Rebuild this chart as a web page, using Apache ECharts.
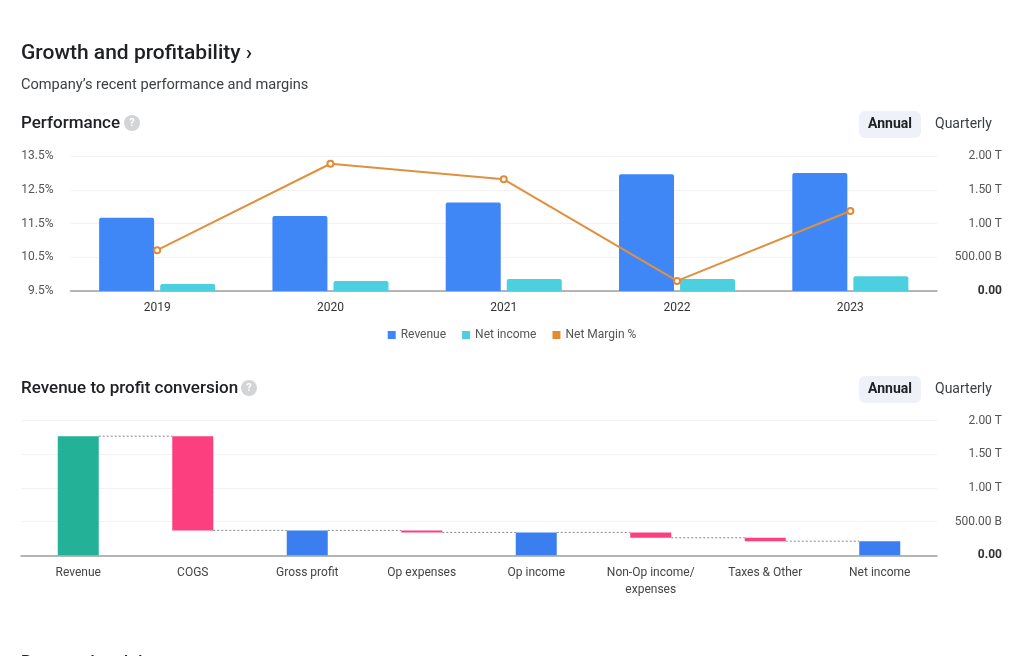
<!DOCTYPE html>
<html>
<head>
<meta charset="utf-8">
<script src="https://cdn.jsdelivr.net/npm/echarts@6/dist/echarts.min.js"></script>
<style>
html,body{margin:0;padding:0;background:#fff;}
#c{width:1024px;height:656px;}
</style>
</head>
<body>
<div id="c"></div>
<script>
// ---- Performance data ----
const years = ['2019', '2020', '2021', '2022', '2023'];
const revenue = [1.086, 1.11, 1.31, 1.73, 1.75];          // trillions
const netIncome = [0.104, 0.148, 0.178, 0.178, 0.218];    // trillions
const netMargin = [10.71, 13.27, 12.81, 9.80, 11.87];     // percent
const marginTicks = [9.5, 10.5, 11.5, 12.5, 13.5];

// ---- Revenue to profit conversion ----
const wfCategories = ['Revenue', 'COGS', 'Gross profit', 'Op expenses', 'Op income', 'Non-Op income/\nexpenses', 'Taxes & Other', 'Net income'];
const wfValues = [1.77, -1.40, 0.37, -0.03, 0.34, -0.08, -0.05, 0.21];
const wfIsTotal = [true, false, true, false, true, false, false, true];

const FONT = 'Roboto';
const BLUE = '#3f86f7', CYAN = '#4ccfdf', ORANGE = '#e58a31', GREEN = '#23b298', PINK = '#fc3f7e', TOTAL_BLUE = '#3a7ef0';

// build waterfall base/height from data
const wfBase = [], wfHeight = [], wfLevels = [];
let level = 0;
wfValues.forEach((v, i) => {
  if (wfIsTotal[i]) { wfBase.push(0); wfHeight.push(v); level = v; }
  else { const bottom = level + v; wfBase.push(bottom); wfHeight.push(-v); level = bottom; }
  wfLevels.push(level);
});
const wfColors = wfValues.map((v, i) => i === 0 ? GREEN : (wfIsTotal[i] ? TOTAL_BLUE : PINK));

function fmtT(v) {
  if (v === 0) return '{b|0.00}';
  if (v < 1) return (v * 1000).toFixed(2) + ' B';
  return v.toFixed(2) + ' T';
}
const rightLabel = {
  color: '#555', fontFamily: FONT, fontSize: 12, align: 'right', margin: 65,
  formatter: fmtT,
  rich: { b: { fontWeight: 'bold', color: '#333', fontFamily: FONT, fontSize: 12 } }
};

const chart = echarts.init(document.getElementById('c'), null, { renderer: 'canvas' });

function helpIcon(x, y) {
  return [
    { type: 'circle', shape: { cx: x, cy: y, r: 8 }, style: { fill: '#d3d4d6' } },
    { type: 'text', x: x, y: y, style: { text: '?', fill: '#fff', font: 'bold 11px Roboto', textAlign: 'center', textVerticalAlign: 'middle' } }
  ];
}
function pill(y) {
  return [
    { type: 'rect', shape: { x: 859, y: y - 13, width: 62, height: 27, r: 6 }, style: { fill: '#eef1f8' } },
    { type: 'text', x: 890, y: y, style: { text: 'Annual', fill: '#202124', font: 'bold 14px Roboto', textAlign: 'center', textVerticalAlign: 'middle' } },
    { type: 'text', x: 935, y: y, style: { text: 'Quarterly', fill: '#3c4043', font: '14px Roboto', textAlign: 'left', textVerticalAlign: 'middle' } }
  ];
}

const option = {
  backgroundColor: '#fff',
  animation: false,
  textStyle: { fontFamily: FONT },
  graphic: [
    { type: 'text', x: 21, y: 54, style: { text: 'Growth and profitability ›', fill: '#202124', font: '500 21px Roboto', textVerticalAlign: 'middle' } },
    { type: 'text', x: 21, y: 85, style: { text: 'Company’s recent performance and margins', fill: '#3c4043', font: '14.6px Roboto', textVerticalAlign: 'middle' } },
    { type: 'text', x: 21, y: 124, style: { text: 'Performance', fill: '#202124', font: '500 17px Roboto', textVerticalAlign: 'middle' } },
    ...helpIcon(132, 123),
    ...pill(124),
    { type: 'text', x: 21, y: 389, style: { text: 'Revenue to profit conversion', fill: '#202124', font: '500 17px Roboto', textVerticalAlign: 'middle' } },
    ...helpIcon(249, 388),
    ...pill(389),
    { type: 'text', x: 21, y: 663, style: { text: 'Revenue breakdown', fill: '#202124', font: '500 17px Roboto', textVerticalAlign: 'middle' } }
  ],
  legend: {
    data: ['Revenue', 'Net income', 'Net Margin %'],
    top: 324, left: 'center',
    icon: 'rect', itemWidth: 8, itemHeight: 8, itemGap: 16,
    textStyle: { color: '#555', fontSize: 12, fontFamily: FONT }
  },
  grid: [
    { left: 70.5, right: 87, top: 156, height: 135, containLabel: false },
    { left: 21, right: 87, top: 420.7, height: 134.6, containLabel: false }
  ],
  xAxis: [
    {
      type: 'category', gridIndex: 0, data: years,
      axisLine: { lineStyle: { color: '#9e9e9e', width: 1.5 } },
      axisTick: { show: false },
      axisLabel: { color: '#333', fontSize: 12, fontFamily: FONT, margin: 11 }
    },
    {
      type: 'category', gridIndex: 1, data: wfCategories,
      axisLine: { lineStyle: { color: '#9e9e9e', width: 1.5 } },
      axisTick: { show: false },
      axisLabel: { color: '#444', fontSize: 12, fontFamily: FONT, margin: 9, lineHeight: 17, interval: 0 }
    }
  ],
  yAxis: [
    {
      type: 'value', gridIndex: 0, position: 'left', min: marginTicks[0], max: marginTicks[marginTicks.length - 1], interval: 1,
      axisLine: { show: false }, axisTick: { show: false }, splitLine: { show: false },
      axisLabel: { color: '#555', fontSize: 12, fontFamily: FONT, margin: 17, formatter: v => v.toFixed(1) + '%' }
    },
    {
      type: 'value', gridIndex: 0, position: 'right', min: 0, max: 2, interval: 0.5,
      axisLine: { show: false }, axisTick: { show: false },
      splitLine: { lineStyle: { color: '#f2f2f2' } },
      axisLabel: rightLabel
    },
    {
      type: 'value', gridIndex: 1, position: 'right', min: 0, max: 2, interval: 0.5,
      axisLine: { show: false }, axisTick: { show: false },
      splitLine: { lineStyle: { color: '#f2f2f2' } },
      axisLabel: rightLabel
    }
  ],
  series: [
    {
      name: 'Revenue', type: 'bar', xAxisIndex: 0, yAxisIndex: 1, data: revenue,
      barWidth: 55, barGap: '11%', itemStyle: { color: BLUE, borderRadius: [2, 2, 0, 0] }
    },
    {
      name: 'Net income', type: 'bar', xAxisIndex: 0, yAxisIndex: 1, data: netIncome,
      barWidth: 55, barGap: '11%', itemStyle: { color: CYAN, borderRadius: [2, 2, 0, 0] }
    },
    {
      name: 'Net Margin %', type: 'line', xAxisIndex: 0, yAxisIndex: 0, data: netMargin,
      symbol: 'emptyCircle', symbolSize: 6, z: 5,
      itemStyle: { color: ORANGE, borderWidth: 1.5 },
      lineStyle: { color: '#e0913f', width: 2 }
    },
    {
      name: 'wfBase', type: 'bar', xAxisIndex: 1, yAxisIndex: 2, stack: 'wf', data: wfBase,
      barWidth: 41, itemStyle: { color: 'transparent' }, silent: true
    },
    {
      name: 'wfValue', type: 'bar', xAxisIndex: 1, yAxisIndex: 2, stack: 'wf',
      data: wfHeight.map((h, i) => ({ value: h, itemStyle: { color: wfColors[i] } })),
      barWidth: 41
    },
    {
      name: 'wfConnect', type: 'custom', xAxisIndex: 1, yAxisIndex: 2,
      data: wfLevels.slice(0, -1).map((l, i) => [i, l]),
      renderItem: function (params, api) {
        const p = api.coord([api.value(0), api.value(1)]);
        const w = api.size([1, 0])[0];
        return {
          type: 'line',
          shape: { x1: p[0] + 20.5, y1: p[1], x2: p[0] + w - 20.5, y2: p[1] },
          style: { stroke: '#8a8a8a', lineWidth: 1, lineDash: [2, 2] }
        };
      },
      z: 1
    }
  ]
};
chart.setOption(option);
</script>
</body>
</html>
